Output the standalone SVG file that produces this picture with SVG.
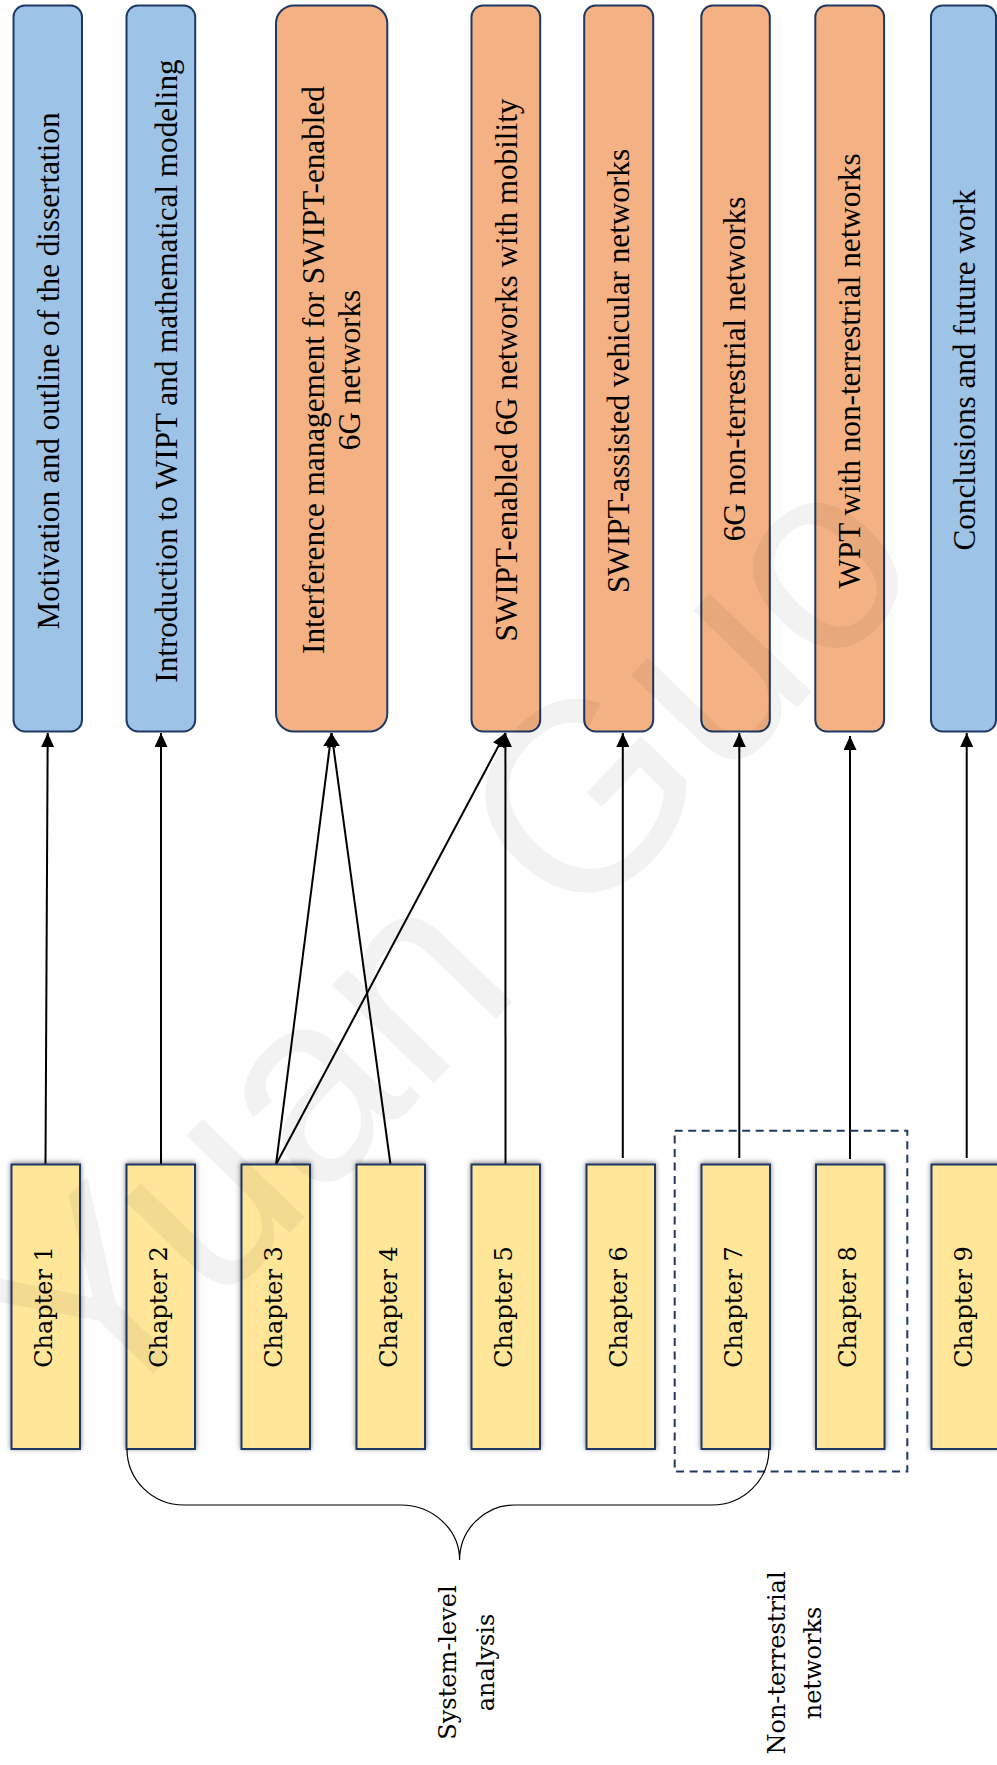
<svg xmlns="http://www.w3.org/2000/svg" width="997" height="1765" viewBox="0 0 997 1765">
  <defs>
    <style>
      .box { stroke: #1F3864; stroke-width: 2; }
      .blue { fill: #9DC3E6; }
      .orange { fill: #F4B183; }
      .chapter { fill: #FFE699; stroke: #1F3864; stroke-width: 2; filter: url(#shadow); }
      .title { font-family: "Liberation Serif", "Times New Roman", serif; font-size: 31.2px; fill: #000; text-anchor: middle; }
      .label { font-family: "DejaVu Serif", serif; font-size: 24px; fill: #000; text-anchor: middle; }
      .conn { stroke: #000; stroke-width: 2; fill: none; marker-end: url(#arrow); }
      .group-frame { fill: none; stroke: #1F3864; stroke-width: 2; stroke-dasharray: 8 5.5; }
      .brace { fill: none; stroke: #000; stroke-width: 1.2; }
      .mark { font-family: "Liberation Sans", Arial, sans-serif; font-size: 268px; fill: #000; fill-opacity: 0.05; }
    </style>
    <marker id="arrow" markerUnits="userSpaceOnUse" markerWidth="14" markerHeight="13" viewBox="0 0 14 13" refX="14" refY="6.5" orient="auto">
      <path d="M0,0 L14,6.5 L0,13 z" fill="#000"/>
    </marker>
    <filter id="shadow" x="-30%" y="-10%" width="160%" height="120%">
      <feDropShadow dx="0" dy="-1" stdDeviation="2.5" flood-color="#000" flood-opacity="0.5"/>
    </filter>
  </defs>

  <rect width="997" height="1765" fill="#fff"/>

  <!-- connectors: chapter -> topic -->
  <g id="connectors">
    <line class="conn" x1="45.5" y1="1164.5" x2="47.7" y2="733"/>
    <line class="conn" x1="161" y1="1164.5" x2="161" y2="733"/>
    <line class="conn" x1="276" y1="1164.5" x2="331.5" y2="733"/>
    <line class="conn" x1="390.5" y1="1164.5" x2="331.5" y2="733"/>
    <line class="conn" x1="276" y1="1164.5" x2="505.4" y2="733"/>
    <line class="conn" x1="505.5" y1="1164.5" x2="505.4" y2="733"/>
    <line class="conn" x1="622.8" y1="1158" x2="622.8" y2="733"/>
    <line class="conn" x1="739.3" y1="1158" x2="739.3" y2="733"/>
    <line class="conn" x1="850" y1="1159" x2="850" y2="736"/>
    <line class="conn" x1="966.7" y1="1158" x2="966.7" y2="733"/>
  </g>

  <!-- topic boxes -->
  <g id="topic-1">
    <rect class="box blue" x="13.5" y="5.5" width="68.5" height="726" rx="11.5"/>
    <text class="title" transform="translate(58.7,371) rotate(-90)">Motivation and outline of the dissertation</text>
  </g>
  <g id="topic-2">
    <rect class="box blue" x="126.5" y="5.5" width="68.7" height="726" rx="11.5"/>
    <text class="title" transform="translate(177,371) rotate(-90)">Introduction to WIPT and mathematical modeling</text>
  </g>
  <g id="topic-3">
    <rect class="box orange" x="276" y="5.5" width="111.3" height="726" rx="18"/>
    <text class="title" transform="translate(324,370) rotate(-90)">Interference management for SWIPT-enabled</text>
    <text class="title" transform="translate(360,370) rotate(-90)">6G networks</text>
  </g>
  <g id="topic-4">
    <rect class="box orange" x="471.5" y="5.5" width="68.7" height="726" rx="11.5"/>
    <text class="title" transform="translate(516.5,370) rotate(-90)">SWIPT-enabled 6G networks with mobility</text>
  </g>
  <g id="topic-5">
    <rect class="box orange" x="584.2" y="5.5" width="69" height="726" rx="11.5"/>
    <text class="title" transform="translate(629,371) rotate(-90)">SWIPT-assisted vehicular networks</text>
  </g>
  <g id="topic-6">
    <rect class="box orange" x="701.3" y="5.5" width="68.5" height="726" rx="11.5"/>
    <text class="title" transform="translate(745,369) rotate(-90)">6G non-terrestrial networks</text>
  </g>
  <g id="topic-7">
    <rect class="box orange" x="815.3" y="5.5" width="68.8" height="726" rx="11.5"/>
    <text class="title" transform="translate(860,371) rotate(-90)">WPT with non-terrestrial networks</text>
  </g>
  <g id="topic-8">
    <rect class="box blue" x="931" y="5.5" width="65" height="726" rx="11.5"/>
    <text class="title" transform="translate(975,370) rotate(-90)">Conclusions and future work</text>
  </g>

  <!-- chapter boxes -->
  <g id="chapter-1">
    <rect class="chapter" x="11.5" y="1164.5" width="68.5" height="284.5"/>
    <text class="label" transform="translate(51.7,1307) rotate(-90)">Chapter 1</text>
  </g>
  <g id="chapter-2">
    <rect class="chapter" x="126.5" y="1164.5" width="68.5" height="284.5"/>
    <text class="label" transform="translate(166.7,1307) rotate(-90)">Chapter 2</text>
  </g>
  <g id="chapter-3">
    <rect class="chapter" x="241.5" y="1164.5" width="68.5" height="284.5"/>
    <text class="label" transform="translate(281.7,1307) rotate(-90)">Chapter 3</text>
  </g>
  <g id="chapter-4">
    <rect class="chapter" x="356.5" y="1164.5" width="68.5" height="284.5"/>
    <text class="label" transform="translate(396.7,1307) rotate(-90)">Chapter 4</text>
  </g>
  <g id="chapter-5">
    <rect class="chapter" x="471.5" y="1164.5" width="68.5" height="284.5"/>
    <text class="label" transform="translate(511.7,1307) rotate(-90)">Chapter 5</text>
  </g>
  <g id="chapter-6">
    <rect class="chapter" x="586.5" y="1164.5" width="68.5" height="284.5"/>
    <text class="label" transform="translate(626.7,1307) rotate(-90)">Chapter 6</text>
  </g>
  <g id="chapter-7">
    <rect class="chapter" x="701.5" y="1164.5" width="68.5" height="284.5"/>
    <text class="label" transform="translate(741.7,1307) rotate(-90)">Chapter 7</text>
  </g>
  <g id="chapter-8">
    <rect class="chapter" x="816" y="1164.5" width="68.5" height="284.5"/>
    <text class="label" transform="translate(856.2,1307) rotate(-90)">Chapter 8</text>
  </g>
  <g id="chapter-9">
    <rect class="chapter" x="931.5" y="1164.5" width="68.5" height="284.5"/>
    <text class="label" transform="translate(971.7,1307) rotate(-90)">Chapter 9</text>
  </g>

  <!-- non-terrestrial grouping frame -->
  <g id="ntn-group">
    <rect class="group-frame" x="674.7" y="1130.8" width="232.6" height="340.7"/>
    <text class="label" transform="translate(784.5,1663) rotate(-90)">Non-terrestrial</text>
    <text class="label" transform="translate(821,1663) rotate(-90)">networks</text>
  </g>

  <!-- system-level brace -->
  <g id="system-level">
    <path class="brace" d="M127,1449 C127,1480 152.5,1505 184,1505 H400.5 C433,1505 459.6,1529.6 459.6,1560 C459.6,1529.6 484.4,1505 515,1505 H712 C743.5,1505 769,1480 769,1449"/>
    <text class="label" transform="translate(456,1662.5) rotate(-90)">System-level</text>
    <text class="label" transform="translate(494,1662.5) rotate(-90)">analysis</text>
  </g>

  <!-- author watermark -->
  <text class="mark" transform="translate(100,1429) rotate(-46)">Yuan Guo</text>
</svg>
